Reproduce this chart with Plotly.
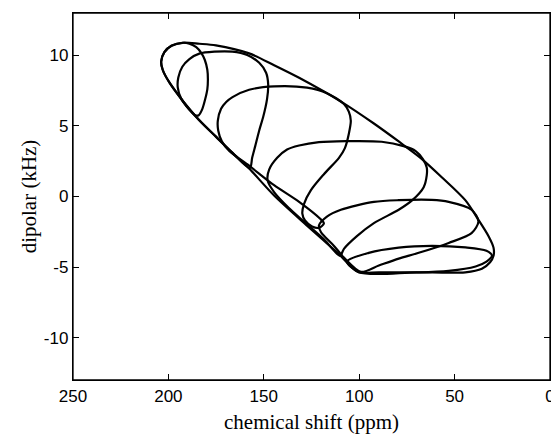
import plotly.graph_objects as go

# Outer boundary (chemical shift ppm, dipolar kHz)
outer_cs = [100.2, 110.6, 127.2, 144.6, 157.7, 166.4, 175.1, 183.8, 192.5, 199.5, 203.0, 203.8, 202.1, 198.4,
            192.5, 183.8, 175.1, 157.7, 144.6, 131.5, 108.9, 92.3, 79.3, 67.9, 56.6, 44.4, 37.5, 32.2, 29.6,
            29.6, 31.4, 35.7, 44.4, 70.0, 100.2]
outer_dc = [-5.37, -4.08, -2.08, 0.07, 1.98, 3.09, 4.24, 5.40, 6.78, 8.08, 8.98, 9.56, 10.23, 10.68,
            10.89, 10.82, 10.71, 10.14, 9.30, 8.41, 6.67, 5.17, 3.90, 2.74, 1.35, -0.26, -1.65, -2.81, -3.62,
            -4.20, -4.66, -5.12, -5.37, -5.37, -5.37]

w1_cs = [190.6, 192.5, 199.5, 203.0, 203.8, 202.1, 198.4, 192.5, 189.0, 185.4, 182.7, 180.9, 179.6, 179.3,
         179.6, 180.7, 182.2, 184.1, 185.9, 188.0, 190.6]
w1_dc = [6.41, 6.78, 8.08, 8.98, 9.56, 10.23, 10.68, 10.89, 10.82, 10.58, 10.16, 9.67, 8.98, 8.29,
         7.59, 6.90, 6.21, 5.76, 5.76, 6.00, 6.41]

w2_cs = [193.2, 195.1, 194.8, 192.7, 189.0, 183.8, 175.9, 166.5, 158.7, 152.4, 148.8, 147.7, 148.3, 150.3,
         152.4, 154.5, 156.1, 157.3, 166.4, 175.1, 183.8, 193.2]
w2_dc = [6.90, 7.73, 8.43, 9.19, 9.74, 10.12, 10.26, 10.26, 10.02, 9.47, 8.77, 7.94, 6.90, 5.65,
         4.68, 3.57, 2.74, 2.02, 3.09, 4.24, 5.40, 6.90]

w3_cs = [168.1, 172.0, 173.9, 174.1, 172.4, 169.7, 166.4, 157.7, 144.6, 127.3, 116.9, 108.0, 105.4, 104.4,
         105.4, 107.5, 110.6, 118.5, 125.3, 128.9, 129.8, 128.4, 124.7, 121.1, 118.5, 120.6, 131.5, 144.6,
         157.7, 168.1]
w3_dc = [3.22, 3.92, 4.68, 5.37, 6.21, 6.69, 7.04, 7.56, 7.80, 7.71, 7.32, 6.55, 6.00, 5.37,
         4.47, 3.43, 2.74, 1.58, 0.45, -0.52, -1.21, -1.70, -2.12, -2.22, -1.91, -1.56, -0.38, 0.80,
         2.18, 3.22]

w4_cs = [131.5, 121.1, 107.0, 88.2, 76.7, 70.4, 66.7, 64.6, 64.6, 66.2, 72.0, 79.3, 92.3, 101.2, 108.0,
         110.1, 118.0, 127.5, 137.0, 144.6, 148.0, 147.2, 143.0, 137.8, 131.5]
w4_dc = [3.61, 3.85, 3.92, 3.88, 3.57, 3.22, 2.67, 2.05, 1.49, 0.66, -0.24, -0.94, -1.89, -2.81, -3.71,
         -4.20, -3.10, -1.95, -0.80, 0.31, 1.14, 1.91, 2.74, 3.33, 3.61]

w5_cs = [121.1, 116.9, 109.6, 92.3, 79.3, 62.0, 53.1, 41.1, 37.5, 41.1, 53.1, 68.8, 79.3, 89.7, 99.1,
         108.0, 113.2, 120.0, 121.1]
w5_dc = [-2.05, -1.42, -0.94, -0.38, -0.26, -0.24, -0.38, -0.94, -1.77, -2.60, -3.29, -3.99, -4.40, -4.89, -5.34,
         -4.33, -3.50, -2.53, -2.05]

w6_cs = [106.4, 95.0, 79.3, 62.0, 44.3, 33.3, 30.4, 33.3, 39.0, 53.1, 68.8, 89.7, 100.2, 106.4]
w6_dc = [-4.61, -3.99, -3.62, -3.50, -3.61, -3.85, -4.20, -4.61, -4.96, -5.27, -5.37, -5.37, -5.37, -4.61]

x_ticks = [250, 200, 150, 100, 50, 0]
y_ticks = [-10, -5, 0, 5, 10]

curves = [(outer_cs, outer_dc), (w1_cs, w1_dc), (w2_cs, w2_dc), (w3_cs, w3_dc),
          (w4_cs, w4_dc), (w5_cs, w5_dc), (w6_cs, w6_dc)]

fig = go.Figure()
for cs, dc in curves:
    fig.add_trace(go.Scatter(x=cs, y=dc, mode="lines",
                             line=dict(color="black", width=2.2, shape="spline", smoothing=0.8),
                             showlegend=False, hoverinfo="skip"))

axis_common = dict(showline=True, linecolor="black", linewidth=1.3, mirror="ticks", ticks="inside",
                   ticklen=6, tickcolor="black", tickwidth=1.3, showgrid=False, zeroline=False,
                   tickfont=dict(family="Liberation Sans, Arial, sans-serif", size=17, color="black"))

# page body has an 8px default margin, so the figure is sized to sit inside the window
fig.update_layout(
    width=551, height=426,
    margin=dict(l=65, r=7, t=4, b=47),
    paper_bgcolor="white", plot_bgcolor="white",
    xaxis=dict(range=[250, 0], tickvals=x_ticks, ticktext=[str(v) for v in x_ticks],
               title=dict(text="chemical shift (ppm)", standoff=10,
                          font=dict(family="Liberation Serif, Times New Roman, serif", size=21, color="black")),
               **axis_common),
    yaxis=dict(range=[-13, 13], tickvals=y_ticks, ticktext=[str(v) for v in y_ticks],
               title=dict(text="dipolar (kHz)", standoff=1,
                          font=dict(family="Liberation Serif, Times New Roman, serif", size=21, color="black")),
               **axis_common),
    shapes=[dict(type="rect", xref="paper", yref="paper", x0=0, x1=1, y0=0, y1=1,
                 line=dict(color="black", width=1.3), layer="above")],
)

fig.write_html("out.html")
